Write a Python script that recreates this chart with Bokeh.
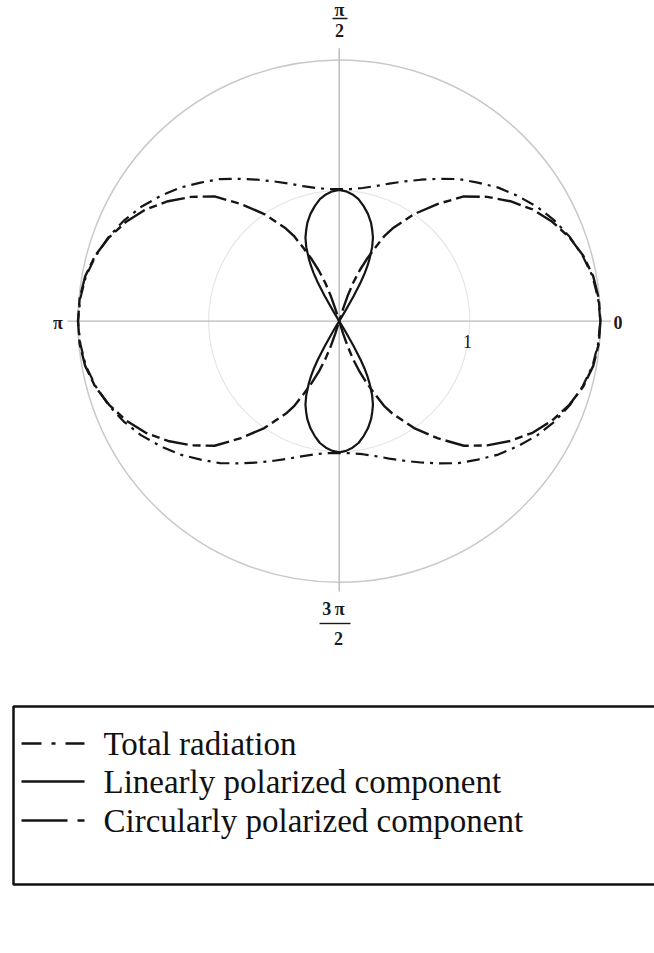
import numpy as np
from bokeh.plotting import figure
from bokeh.models import Range1d
from bokeh.core.properties import value
from bokeh.embed import file_html
from bokeh.resources import INLINE

# Radiation pattern, first quadrant (angle in degrees, radius in units);
# every pattern is mirror-symmetric about both axes.
theta_total = [0, 5, 10, 15, 20, 25, 30, 35, 40, 45, 50, 55, 60, 65, 70, 75, 80, 85, 90]
r_total = [2.00, 1.99, 1.97, 1.93, 1.88, 1.82, 1.75, 1.67, 1.59, 1.50, 1.42,
           1.33, 1.25, 1.18, 1.12, 1.07, 1.035, 1.015, 1.01]

theta_circ = [0, 5, 10, 15, 20, 25, 30, 35, 40, 45, 50, 55, 60, 62, 64, 66, 68,
              70, 71.5, 72.5, 73.5]
r_circ = [2.00, 1.995, 1.975, 1.935, 1.875, 1.80, 1.71, 1.60, 1.48, 1.35, 1.17,
          1.00, 0.82, 0.74, 0.62, 0.52, 0.42, 0.31, 0.20, 0.10, 0.0]

theta_lin = [58.5, 59, 60, 61, 62, 63, 64, 66, 68, 70, 72, 75, 78, 81, 84, 87, 90]
r_lin = [0.0, 0.08, 0.22, 0.34, 0.42, 0.48, 0.53, 0.62, 0.69, 0.74, 0.79, 0.85,
         0.90, 0.945, 0.975, 0.995, 1.005]

grid_radii = [1, 2]
angle_labels = ["0", "\u03c0"]
legend_labels = ["Total radiation", "Linearly polarized component",
                 "Circularly polarized component"]

# page geometry (pixels) -> data units
W, H = 654, 953
U = 130.6            # pixels per radial unit
CX, CY = 338.7, 320.6


def px(x):
    return (x - CX) / U


def py(y):
    return (CY - y) / U


def to_xy(deg, r):
    a = np.radians(deg)
    return r * np.cos(a), r * np.sin(a)


def closed_loop(th, r):
    th, r = np.asarray(th, float), np.asarray(r, float)
    a = np.concatenate([th, 180 - th[::-1], 180 + th, 360 - th[::-1]])
    rr = np.concatenate([r, r[::-1], r, r[::-1]])
    return to_xy(a, rr)


def horizontal_lobes(th, r):
    th, r = np.asarray(th, float), np.asarray(r, float)
    a = np.concatenate([-th[::-1], th[1:]])
    rr = np.concatenate([r[::-1], r[1:]])
    return to_xy(np.concatenate([a, 180 + a]), np.concatenate([rr, rr]))


def vertical_lobes(th, r):
    th, r = np.asarray(th, float), np.asarray(r, float)
    a = np.concatenate([th, 180 - th[::-1][1:]])
    rr = np.concatenate([r, r[::-1][1:]])
    return to_xy(np.concatenate([a, 180 + a]), np.concatenate([rr, rr]))


p = figure(width=W, height=H, output_backend="svg", toolbar_location=None,
           x_axis_location=None, y_axis_location=None, min_border=0,
           x_range=Range1d(px(0), px(W)), y_range=Range1d(py(H), py(0)))
p.grid.visible = False
p.outline_line_color = None
p.background_fill_color = "white"

serif = value("Liberation Serif")

# polar grid
p.circle(x=[0, 0], y=[0, 0], radius=grid_radii, fill_color=None,
         line_color=["#e6e6e6", "#c9c9c9"], line_width=[1.2, 1.5])
p.segment(x0=[-2.08, 0], y0=[0, -2.07], x1=[2.08, 0], y1=[0, 2.09],
          line_color="#b8b8b8", line_width=1.4)

# curves
INK = "#151515"
tx, ty = closed_loop(theta_total, r_total)
p.line(tx, ty, line_color=INK, line_width=2.2, line_dash="13 6 3 6")
lx, ly = vertical_lobes(theta_lin, r_lin)
p.line(lx, ly, line_color=INK, line_width=2.2)
cx_, cy_ = horizontal_lobes(theta_circ, r_circ)
p.line(cx_, cy_, line_color=INK, line_width=2.4, line_dash="24 5 8 5")

# angle / radius labels
p.text(x=[px(617.5), px(57.5)], y=[py(322), py(322)],
       text=angle_labels, text_font=serif, text_font_size="18px",
       text_font_style="bold", text_align="center", text_baseline="middle",
       text_color="#1a1a1a")
p.text(x=[px(467)], y=[py(341)], text=["1"], text_font=serif,
       text_font_size="18px", text_align="center", text_baseline="middle",
       text_color="#1a1a1a")
p.text(x=[px(339), px(339), px(333), px(338)],
       y=[py(9), py(30), py(608), py(638)],
       text=["\u03c0", "2", "3\u2009\u03c0", "2"], text_font=serif,
       text_font_size="18px", text_font_style="bold", text_align="center",
       text_baseline="middle", text_color="#1a1a1a")
p.segment(x0=[px(332), px(319)], y0=[py(18), py(623)],
          x1=[px(347), px(350)], y1=[py(18), py(623)],
          line_color="#1a1a1a", line_width=1.4)

# legend box
p.quad(left=[px(13)], right=[px(W + 20)], top=[py(706)], bottom=[py(884)],
       fill_color=None, line_color="#111111", line_width=2.5)
rows = [743, 781, 820]
p.line([px(21), px(84)], [py(rows[0])] * 2, line_color=INK, line_width=2.4,
       line_dash="20 10 4 10")
p.line([px(21), px(84)], [py(rows[1])] * 2, line_color=INK, line_width=2.4)
p.line([px(21), px(84)], [py(rows[2])] * 2, line_color=INK, line_width=2.6,
       line_dash="46 10 8 30")
p.text(x=[px(103)] * 3, y=[py(v) for v in rows], text=legend_labels,
       text_font=serif, text_font_size="33px", text_align="left",
       text_baseline="middle", text_color="#111111")

open("out.html", "w").write(file_html(p, INLINE))
